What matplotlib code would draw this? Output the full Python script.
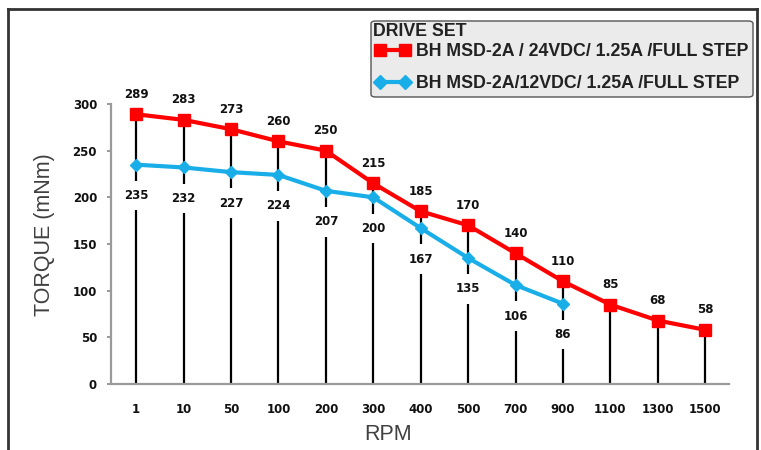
import numpy as np
import matplotlib
matplotlib.use('Agg')
import matplotlib.pyplot as plt
from matplotlib.lines import Line2D
from matplotlib.patches import FancyBboxPatch

# data
rpm = ['1', '10', '50', '100', '200', '300', '400', '500', '700', '900', '1100', '1300', '1500']
torque_24v = [289, 283, 273, 260, 250, 215, 185, 170, 140, 110, 85, 68, 58]
torque_12v = [235, 232, 227, 224, 207, 200, 167, 135, 106, 86]
name_24v = 'BH MSD-2A / 24VDC/ 1.25A /FULL STEP'
name_12v = 'BH MSD-2A/12VDC/ 1.25A /FULL STEP'

RED = '#ff0000'
BLUE = '#1aaee8'
W, H = 761, 450

fig = plt.figure(figsize=(W / 100, H / 100), dpi=100)
ax = fig.add_axes([111 / W, 66 / H, 618 / W, 280 / H])

x = np.arange(len(rpm))
x12 = x[:len(torque_12v)]

# drop lines from each point down to the axis
ax.vlines(x, 0, torque_24v, color='black', linewidth=1.6, zorder=1)

ax.plot(x, torque_24v, color=RED, linewidth=3, marker='s', markersize=9,
        zorder=5, label=name_24v)
ax.plot(x12, torque_12v, color=BLUE, linewidth=3, marker='D', markersize=6.5,
        zorder=4, label=name_12v)

lbl_font = dict(family='DejaVu Sans', fontsize=8.5, fontweight='bold', color='#111111')
for xi, v in zip(x, torque_24v):
    ax.annotate(str(v), (xi, v), xytext=(0, 20), textcoords='offset pixels',
                ha='center', va='center', annotation_clip=False, zorder=6, **lbl_font)
for xi, v in zip(x12, torque_12v):
    ax.annotate(str(v), (xi, v), xytext=(0, -31), textcoords='offset pixels',
                ha='center', va='center', zorder=3,
                bbox=dict(boxstyle='square,pad=0.7', fc='white', ec='none'),
                **lbl_font)

ax.set_xlim(-0.53, len(rpm) - 0.5)
ax.set_ylim(0, 300)
ax.set_yticks(np.arange(0, 301, 50))
ax.set_xticks(x)
ax.set_xticklabels(rpm)

for s in ['top', 'right']:
    ax.spines[s].set_visible(False)
for s in ['left', 'bottom']:
    ax.spines[s].set_color('#9a9a9a')
    ax.spines[s].set_linewidth(1.6)

ax.tick_params(axis='x', length=0, pad=14)
ax.tick_params(axis='y', length=3, width=1.4, color='#9a9a9a', pad=7)
for t in ax.get_xticklabels() + ax.get_yticklabels():
    t.set_fontfamily('DejaVu Sans')
    t.set_fontsize(8.5)
    t.set_fontweight('bold')
    t.set_color('#111111')

fig.text(45 / W, 1 - 235 / H, 'TORQUE (mNm)', rotation=90, ha='center', va='center',
         family='Liberation Sans', fontsize=15.5, color='#404040')
fig.text(388 / W, 1 - 435 / H, 'RPM', ha='center', va='center',
         family='Liberation Sans', fontsize=15.5, color='#404040')

# legend: grey rounded box, title and two entries
box = FancyBboxPatch((371 / W, 1 - 97 / H), 382 / W, 76 / H,
                     boxstyle='round,pad=0,rounding_size=0.006',
                     transform=fig.transFigure, fc='#ebebeb', ec='#555555', lw=1.0)
fig.add_artist(box)
fig.text(373 / W, 1 - 32 / H, 'DRIVE SET', ha='left', va='center',
         family='Liberation Sans', fontweight='bold', fontsize=12.8, color='#222222')

handles = [
    Line2D([], [], color=RED, linewidth=3, marker='s', markersize=8),
    Line2D([], [], color=BLUE, linewidth=3, marker='D', markersize=7),
]
leg = fig.legend(handles, [name_24v, name_12v], loc='center left',
                 bbox_to_anchor=(375 / W, 1 - 67.5 / H), numpoints=2,
                 prop=dict(family='Liberation Sans', weight='bold', size=12.8),
                 handlelength=2.0, handletextpad=0.3, labelspacing=0.82,
                 borderpad=0, borderaxespad=0, frameon=False)
for t in leg.get_texts():
    t.set_color('#222222')

# outer frame (top, left, right)
frame_kw = dict(color='#333333', linewidth=2, transform=fig.transFigure, clip_on=False)
fig.add_artist(Line2D([8 / W, 757 / W], [1 - 9 / H, 1 - 9 / H], **frame_kw))
fig.add_artist(Line2D([8 / W, 8 / W], [0, 1 - 9 / H], **frame_kw))
fig.add_artist(Line2D([757 / W, 757 / W], [0, 1 - 9 / H], **frame_kw))

fig.savefig('out.png', dpi=100)
